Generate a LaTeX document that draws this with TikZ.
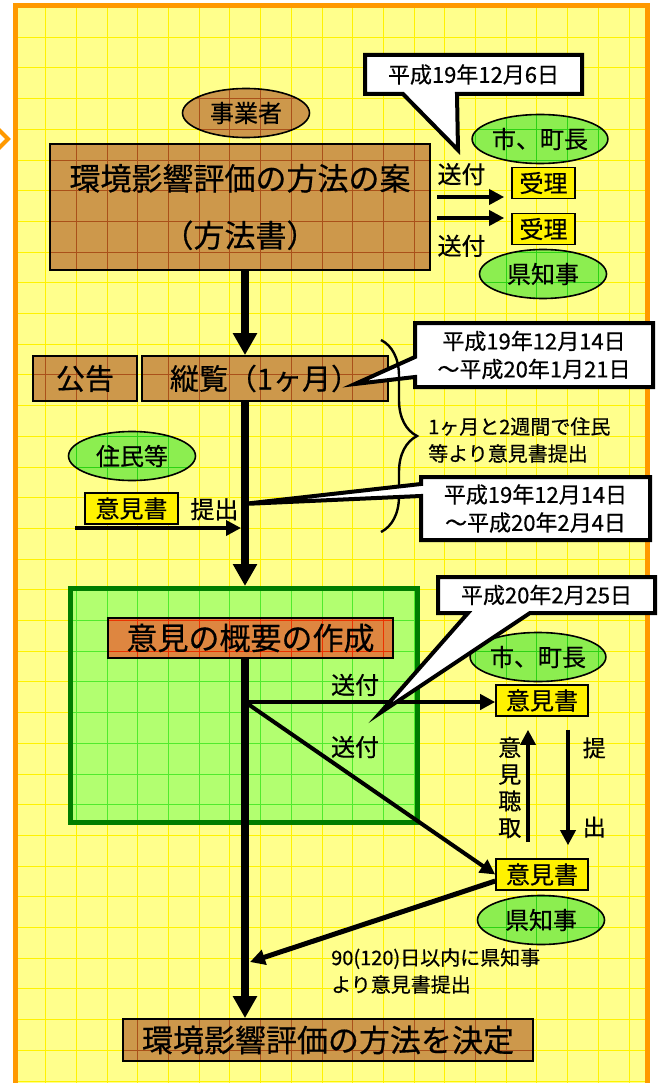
\documentclass[tikz,border=0pt]{standalone}
\usepackage{fontspec}
\setmainfont{Noto Sans CJK JP}[FakeBold=0.5]
\usetikzlibrary{arrows.meta,shapes.geometric,decorations.pathreplacing}

\definecolor{framec}{RGB}{255,153,0}
\definecolor{paperc}{RGB}{255,255,140}
\definecolor{gridc}{RGB}{255,242,0}
\definecolor{tanc}{RGB}{205,152,75}
\definecolor{tanline}{RGB}{170,80,25}
\definecolor{leafc}{RGB}{140,238,80}
\definecolor{leafline}{RGB}{45,210,20}
\definecolor{limec}{RGB}{178,255,112}
\definecolor{limeline}{RGB}{80,235,45}
\definecolor{darkg}{RGB}{0,125,0}
\definecolor{rustc}{RGB}{222,134,64}
\definecolor{rustline}{RGB}{235,50,0}

\newcommand{\gridlines}[1]{%
  \foreach \k in {0,...,21}
    \draw [#1, line width=0.9pt] ({15+30.7*\k}, 0) -- ({15+30.7*\k}, 1100);
  \foreach \k in {0,...,35}
    \draw [#1, line width=0.9pt] (0, {6.5+30.7*\k}) -- (660, {6.5+30.7*\k});}

\tikzset{
  gridfill/.style 2 args={fill=#1, path picture={\pgftransformreset\gridlines{#2}}},
  block/.style={rectangle, draw, line width=1.8pt, inner sep=0pt,
    font=\fontsize{31}{34}\selectfont},
  oval/.style={ellipse, draw, line width=1.6pt, inner sep=0pt,
    minimum width=127pt, minimum height=49pt, font=\fontsize{24}{28}\selectfont},
  paper/.style={rectangle, draw, line width=1.6pt, fill=yellow, inner sep=0pt,
    minimum height=31pt, font=\fontsize{24}{28}\selectfont},
  note/.style={inner sep=0pt, align=center, font=\fontsize{22}{28}\selectfont},
  remark/.style={inner sep=0pt, align=left, font=\fontsize{20}{27}\selectfont},
  lbl/.style={inner sep=0pt, font=\fontsize{24}{27}\selectfont},
  balloon/.style={draw, fill=white, line width=4pt},
  trunk/.style={line width=8pt, -{Triangle[width=23pt, length=22pt]}},
  feed/.style={line width=3.5pt, -{Triangle[width=15pt, length=15pt]}}
}

\begin{document}
\begin{tikzpicture}[x=1pt, y=-1pt]
  \useasboundingbox (0, 0) rectangle (659, 1083);
  \fill [paperc] (15, 6) rectangle (647, 1100);
  \begin{scope}
    \clip (15, 6) rectangle (647, 1100);
    \gridlines{gridc}
  \end{scope}
  \draw [framec, line width=5pt] (15, 6) rectangle (647, 1100);
  \draw [framec, line width=4pt] (-3, 128) -- (8, 139) -- (-3, 150);

  \coordinate (SP) at (245, 0);

  \node [oval, gridfill={tanc}{tanline}] (JG) at (246, 113) {事業者};
  \node [block, gridfill={tanc}{tanline}, minimum width=380pt, minimum height=126pt,
    align=center, font=\fontsize{31}{57}\selectfont] (HS) at (240, 207)
    {環境影響評価の方法の案\\（方法書）};
  \node [oval, gridfill={leafc}{leafline}] (SC1) at (540, 139) {市、町長};
  \node [paper, minimum width=63pt] (UR1) at (543.5, 183) {受理};
  \node [paper, minimum width=63pt] (UR2) at (543.5, 229) {受理};
  \node [oval, gridfill={leafc}{leafline}] (KC1) at (543, 274) {県知事};
  \coordinate (S1) at (437, 197);
  \coordinate (S2) at (437, 218);
  \draw [feed, shorten >=7pt] (S1) -- node [lbl, pos=.33, above=10pt] (SF1) {送付} (S1 -| UR1.west);
  \draw [feed, shorten >=7pt] (S2) -- node [lbl, pos=.33, below=15pt] (SF2) {送付} (S2 -| UR2.west);

  \node [block, gridfill={tanc}{tanline}, minimum width=104pt, minimum height=45pt,
    font=\fontsize{29}{34}\selectfont] (KK) at (85, 378.5) {公告};
  \node [block, gridfill={tanc}{tanline}, minimum width=246pt, minimum height=45pt,
    font=\fontsize{29}{34}\selectfont] (JR) at (265, 378.5) {縦覧（1ヶ月）};
  \node [oval, gridfill={leafc}{leafline}] (JM) at (132, 456) {住民等};
  \node [paper, minimum width=93pt] (IK0) at (131.5, 508.5) {意見書};
  \coordinate (S0) at (75, 528);
  \draw [feed, shorten >=4pt] (S0) -- node [lbl, pos=.82, above=6pt] (TS) {提出} (S0 -| SP);

  \node [rectangle, draw=darkg, line width=5pt, gridfill={limec}{limeline},
    minimum width=347pt, minimum height=234pt] (GB) at (244, 705.5) {};
  \node [block, gridfill={rustc}{rustline}, line width=1.5pt, minimum width=285pt, minimum height=40pt] (GY) at (250.5, 638) {意見の概要の作成};
  \node [block, gridfill={tanc}{tanline}, minimum width=410pt, minimum height=42pt] (KT) at (328, 1040) {環境影響評価の方法を決定};
  \draw [trunk] (HS.south -| SP) -- (JR.north -| SP);
  \draw [trunk] (JR.south -| SP) -- (GB.north -| SP);
  \draw [trunk] (GY.south -| SP) -- (KT.north -| SP);

  \node [oval, gridfill={leafc}{leafline}] (SC2) at (538, 657) {市、町長};
  \node [paper, minimum width=92pt] (IK1) at (542, 700.5) {意見書};
  \node [paper, minimum width=92pt] (IK2) at (542, 874.5) {意見書};
  \node [oval, gridfill={leafc}{leafline}] (KC2) at (541, 920) {県知事};
  \coordinate (BR) at (245, 702);
  \coordinate (KX) at (528, 0);
  \coordinate (TX) at (568, 0);
  \coordinate (RT) at (250, 962);
  \draw [feed, line width=4pt] (BR) -- node [lbl, pos=.44, above=4pt] (SF3) {送付} (BR -| IK1.west);
  \draw [feed, line width=4pt] (BR) -- (IK2.west);
  \node [lbl] (SF4) at (355, 747) {送付};
  \draw [feed, shorten <=16pt, shorten >=13pt] (IK2.north -| KX) -- node [lbl, midway, left=5pt, align=center,
    font=\fontsize{23}{26.7}\selectfont] (CS) {意\\見\\聴\\取} (IK1.south -| KX);
  \draw [feed, shorten <=13pt, shorten >=13pt] (IK1.south -| TX)
    -- node [lbl, pos=.22, right=13pt, font=\fontsize{23}{26}\selectfont] (TE) {提}
       node [lbl, pos=.78, right=13pt, font=\fontsize{23}{26}\selectfont] (DE) {出} (IK2.north -| TX);
  \draw [feed, line width=5pt] ([yshift=-6.5pt]IK2.west) -- (RT);
  \node [remark, anchor=west] (LM) at (331, 971) {90(120)日以内に県知事\\より意見書提出};

  \filldraw [balloon] (365, 55) -- (582, 55) -- (582, 94) -- (457, 94) -- (458, 150) -- (403, 94) -- (365, 94) -- cycle;
  \node [note] (D1) at (473.5, 74.5) {平成19年12月6日};
  \filldraw [balloon] (415, 323) -- (653, 323) -- (653, 387) -- (415, 387) -- (415, 377) -- (355, 384) -- (415, 357) -- cycle;
  \node [note] (D2) at (534, 355) {平成19年12月14日\\～平成20年1月21日};
  \draw [decorate, decoration={brace, amplitude=36pt}, line width=2.4pt] (381, 340) -- (381, 532);
  \node [remark, anchor=west] (DR) at (428, 440) {1ヶ月と2週間で住民\\等より意見書提出};
  \filldraw [balloon] (421, 477) -- (650, 477) -- (650, 540) -- (421, 540) -- (421, 496) -- (243, 504) -- (421, 484) -- cycle;
  \node [note] (D3) at (535.5, 508.5) {平成19年12月14日\\～平成20年2月4日};
  \filldraw [balloon] (438, 577) -- (655, 577) -- (655, 613) -- (530, 613) -- (380, 713) -- (468, 613) -- (438, 613) -- cycle;
  \node [note] (D4) at (546.5, 595) {平成20年2月25日};
\end{tikzpicture}
\end{document}
